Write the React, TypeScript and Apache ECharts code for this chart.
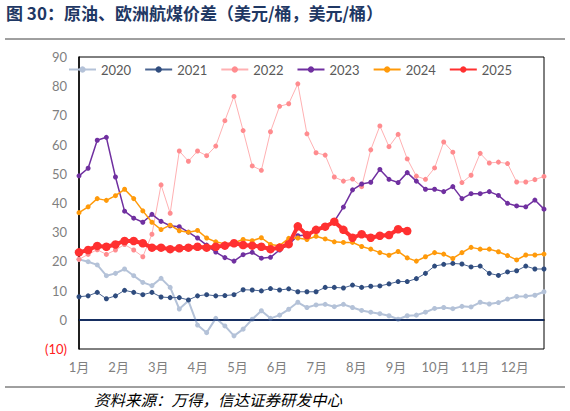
import React, { useEffect, useRef } from "react";
import * as echarts from "echarts";

const monthLabels = ["1月", "2月", "3月", "4月", "5月", "6月", "7月", "8月", "9月", "10月", "11月", "12月"];
const weeksPerMonth = 4.345;
const yearNames = ["2020", "2021", "2022", "2023", "2024", "2025"];

const s2020 = [20.7, 19.9, 18.8, 15.1, 15.9, 17.4, 15.1, 12.8, 11.7, 14.2, 11.1, 3.7, 6.5, -1.8, -4.4, 0.5, -2.1, -5.5, -3.2, 0.2, 3.1, 0.5, 1.6, 3.6, 6.0, 4.2, 5.1, 5.3, 4.5, 5.3, 4.2, 3.2, 2.6, 2.1, 1.4, 0.2, 1.4, 1.6, 2.6, 3.9, 4.2, 3.8, 4.6, 4.4, 6.0, 5.4, 5.9, 7.1, 8.0, 8.1, 8.4, 9.6];
const s2021 = [7.9, 8.2, 9.4, 7.2, 8.2, 10.1, 9.4, 8.6, 9.4, 7.8, 7.6, 7.6, 6.8, 8.2, 8.6, 8.2, 8.3, 8.6, 10.3, 10.2, 9.9, 10.7, 10.2, 10.6, 9.6, 9.6, 9.6, 11.1, 11.1, 10.9, 11.9, 11.1, 11.5, 11.6, 12.3, 13.1, 13.1, 14.1, 15.9, 18.4, 19.0, 19.3, 19.1, 18.1, 18.4, 15.9, 15.2, 16.4, 16.8, 18.4, 17.4, 17.4];
const s2022 = [20.7, 22.4, 24.0, 22.4, 23.9, 25.8, 23.9, 21.6, 29.3, 46.2, 36.5, 57.8, 54.3, 57.8, 56.2, 59.5, 68.2, 76.5, 64.8, 52.7, 51.2, 64.4, 73.1, 74.0, 80.8, 63.7, 57.2, 56.4, 48.9, 47.5, 48.2, 45.6, 58.2, 66.4, 59.3, 63.5, 55.1, 49.2, 48.1, 52.0, 60.9, 57.4, 47.0, 49.5, 57.0, 53.7, 54.0, 53.5, 47.2, 47.2, 48.0, 49.1];
const s2023 = [49.3, 51.9, 61.5, 62.5, 48.9, 37.2, 34.8, 33.4, 36.1, 33.7, 32.2, 31.9, 30.0, 28.0, 25.6, 23.2, 21.3, 20.1, 22.3, 23.1, 21.1, 21.4, 23.9, 25.8, 28.8, 29.0, 30.5, 32.0, 33.7, 38.6, 44.5, 46.5, 47.1, 51.5, 48.1, 47.0, 50.4, 47.5, 44.7, 44.7, 43.9, 45.6, 41.5, 43.2, 43.2, 43.9, 42.6, 39.9, 39.0, 38.7, 41.0, 37.9];
const s2024 = [36.7, 38.7, 41.5, 40.9, 42.5, 44.7, 41.5, 37.3, 33.4, 30.9, 32.4, 30.5, 30.0, 30.6, 28.0, 26.7, 26.0, 26.4, 27.5, 27.1, 28.1, 25.8, 25.4, 27.9, 28.0, 27.5, 28.6, 27.7, 26.7, 26.5, 26.5, 25.1, 24.2, 23.0, 22.1, 23.4, 21.2, 20.1, 21.6, 23.0, 22.5, 21.0, 23.0, 24.8, 24.2, 24.2, 23.3, 22.0, 20.5, 22.2, 22.2, 22.5];
const s2025 = [23.1, 23.9, 25.3, 25.0, 25.8, 27.0, 27.0, 26.2, 24.7, 24.7, 24.2, 24.5, 24.7, 25.0, 24.7, 25.0, 25.4, 26.2, 25.6, 25.4, 25.0, 24.2, 24.7, 25.9, 32.0, 29.0, 30.8, 31.9, 33.6, 30.8, 28.1, 29.3, 28.1, 28.8, 29.0, 31.0, 30.4];

const yTicks = { min: -10, max: 90, step: 10 };

const seriesValues = [s2020, s2021, s2022, s2023, s2024, s2025];
const seriesColors = ["#B4C2D8", "#2F4C7E", "#FF8C8F", "#7030A0", "#FF9A0A", "#FF3030"];
const lineColors = ["#B4C2D8", "#4A6491", "#FFB0B2", "#7030A0", "#FF9A0A", "#FF3030"];
const lineWidths = [2, 1, 1, 1.5, 1.5, 4];
const symbolSizes = [5, 5, 5, 5, 5, 8.5];

export default function App() {
  const ref = useRef<HTMLDivElement>(null);
  useEffect(() => {
    if (!ref.current) return;
    const chart = echarts.init(ref.current, null, { renderer: "svg" });
    const series: any[] = seriesValues.map((vals, k) => ({
      name: yearNames[k],
      type: "line",
      data: vals.map((v, i) => [i, v]),
      symbol: "circle",
      symbolSize: symbolSizes[k],
      showSymbol: true,
      itemStyle: { color: seriesColors[k] },
      lineStyle: { color: lineColors[k], width: lineWidths[k] },
      z: 2 + k,
      ...(k === 0
        ? {
            markLine: {
              silent: true,
              symbol: ["none", "none"],
              label: { show: false },
              lineStyle: { color: "#0A2A6E", width: 1.5, type: "solid" },
              data: [{ yAxis: 0 }],
            },
          }
        : {}),
    }));
    chart.setOption({
      animation: false,
      backgroundColor: "#ffffff",
      title: {
        text: "图 30：原油、欧洲航煤价差（美元/桶，美元/桶）",
        left: 6,
        top: 4,
        padding: 0,
        textStyle: {
          fontFamily: "'Noto Sans CJK SC', sans-serif",
          fontSize: 17,
          fontWeight: "bold",
          color: "#1F3864",
        },
      },
      graphic: [
        { type: "line", shape: { x1: 5, y1: 39, x2: 565, y2: 39 }, style: { stroke: "#404040", lineWidth: 1 } },
        { type: "line", shape: { x1: 5, y1: 387, x2: 565, y2: 387 }, style: { stroke: "#404040", lineWidth: 1 } },
        {
          type: "text",
          x: 218,
          y: 399,
          style: {
            text: "资料来源：万得，信达证券研发中心",
            fontFamily: "'Noto Sans CJK SC', serif",
            fontSize: 15.5,
            fontStyle: "italic",
            fill: "#000000",
            align: "center",
            verticalAlign: "middle",
          },
        },
      ],
      legend: {
        data: yearNames,
        left: 68,
        top: 63,
        padding: 0,
        itemWidth: 27,
        itemHeight: 8,
        itemGap: 13,
        textStyle: { color: "#595959", fontSize: 13, fontFamily: "Lato, 'Noto Sans', sans-serif" },
      },
      grid: {
        left: 79,
        right: 26,
        top: 57,
        bottom: 62,
        show: true,
        borderColor: "#000000",
        borderWidth: 1,
        backgroundColor: "transparent",
      },
      xAxis: {
        type: "value",
        min: 0,
        max: s2020.length - 1,
        interval: weeksPerMonth,
        splitLine: { show: false },
        axisTick: { show: false },
        axisLine: { show: true, lineStyle: { color: "#000000", width: 1.5 } },
        axisLabel: {
          color: "#7F7F7F",
          fontSize: 13,
          margin: 11,
          fontFamily: "Lato, 'Noto Sans CJK SC', sans-serif",
          showMaxLabel: false,
          formatter: (v: number) => {
            const idx = Math.round(v / weeksPerMonth);
            if (Math.abs(v - idx * weeksPerMonth) > 0.01) return "";
            return monthLabels[idx] ?? "";
          },
        },
      },
      yAxis: {
        type: "value",
        min: yTicks.min,
        max: yTicks.max,
        interval: yTicks.step,
        splitLine: { show: false },
        axisTick: { show: false },
        axisLine: { show: true, lineStyle: { color: "#000000", width: 1.5 } },
        axisLabel: {
          margin: 12,
          fontSize: 13,
          fontFamily: "Lato, 'Noto Sans', sans-serif",
          color: (v: any) => (Number(v) < 0 ? "#FF2020" : "#7F7F7F"),
          formatter: (v: number) => (v < 0 ? `(${-v})` : `${v}`),
        },
      },
      series,
    });
    return () => chart.dispose();
  }, []);
  return (
    <div
      ref={ref}
      style={{ position: "fixed", left: 0, top: 0, width: 570, height: 411, background: "#fff" }}
    />
  );
}
